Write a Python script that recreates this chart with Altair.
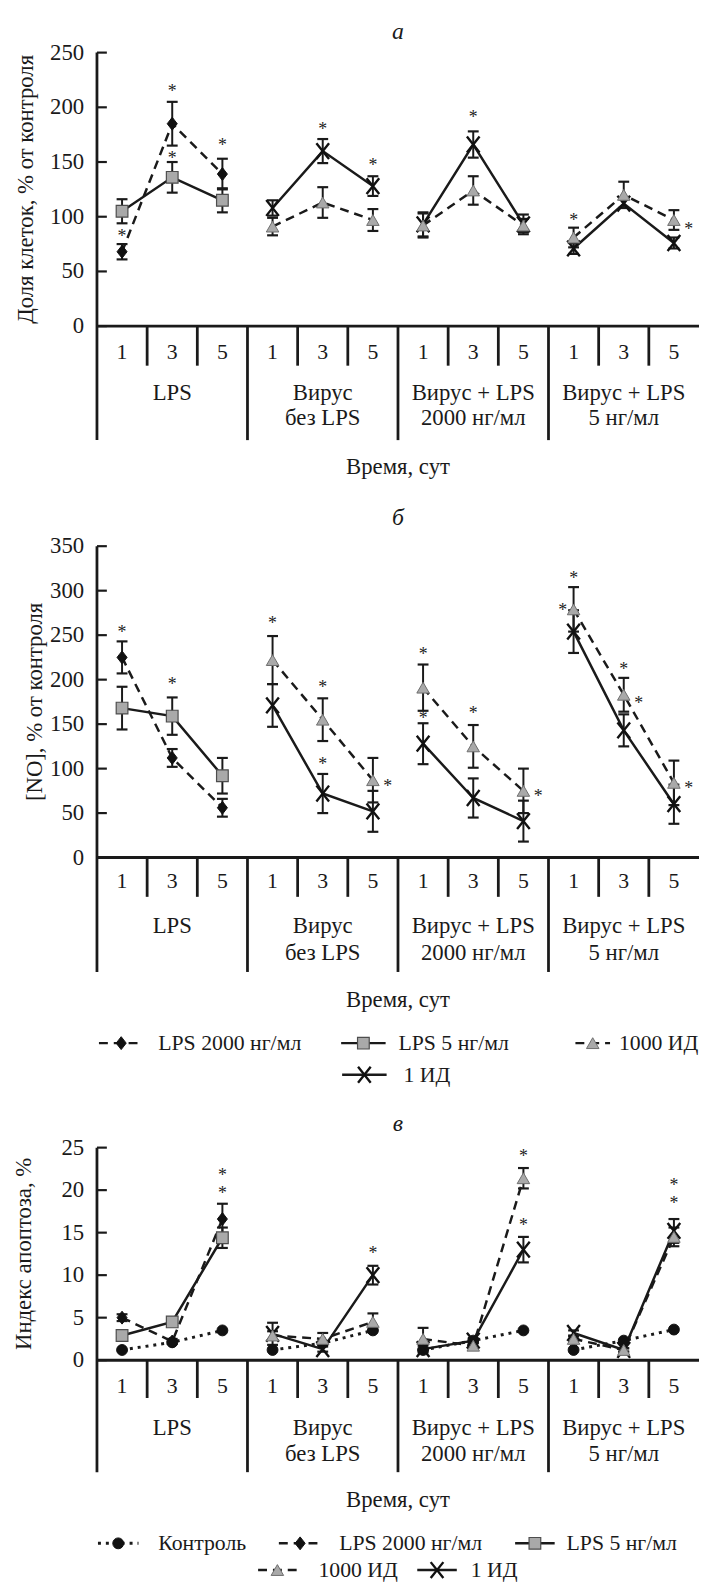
import altair as alt
import pandas as pd

FONT = "Liberation Serif, Times New Roman, serif"
INK = "#1a1a1a"

# ---------------- shared categories / labels ----------------
GROUP_LINE1 = ["LPS", "Вирус", "Вирус + LPS", "Вирус + LPS"]
GROUP_LINE2 = ["", "без LPS", "2000 нг/мл", "5 нг/мл"]
DAY_LABELS = ["1", "3", "5"]
SERIES = ["Контроль", "LPS 2000 нг/мл", "LPS 5 нг/мл", "1000 ИД", "1 ИД"]
X_TITLE = "Время, сут"

# ---------------- panel а ----------------
A_TITLE = "а"
A_YTITLE = "Доля клеток, % от контроля"
A_YMAX, A_YSTEP = 250, 50
A_LPS2000 = [68, 185, 139]
A_LPS2000_ERR = [7, 20, 14]
A_LPS5 = [105, 136, 115]
A_LPS5_ERR = [11, 14, 11]
A_ID1000 = [[91, 113, 97], [92, 124, 92], [81, 120, 97]]
A_ID1000_ERR = [[8, 14, 10], [11, 13, 6], [9, 12, 9]]
A_ID1 = [[108, 160, 128], [93, 166, 93], [71, 112, 76]]
A_ID1_ERR = [[7, 11, 9], [11, 12, 9], [5, 4, 5]]
# (group, day index, value, side)
A_STARS = [(0, 0, 85, "c"), (0, 1, 218, "c"), (0, 1, 156, "c"), (0, 2, 168, "c"),
           (1, 1, 183, "c"), (1, 2, 150, "c"), (2, 1, 194, "c"), (3, 0, 100, "c"),
           (3, 2, 91, "r")]

# ---------------- panel б ----------------
B_TITLE = "б"
B_YTITLE = "[NO], % от контроля"
B_YMAX, B_YSTEP = 350, 50
B_LPS2000 = [225, 112, 56]
B_LPS2000_ERR = [18, 10, 10]
B_LPS5 = [168, 159, 92]
B_LPS5_ERR = [24, 21, 20]
B_ID1000 = [[222, 155, 87], [191, 125, 75], [279, 183, 84]]
B_ID1000_ERR = [[27, 24, 25], [26, 24, 25], [25, 19, 25]]
B_ID1 = [[171, 72, 52], [128, 67, 41], [254, 143, 60]]
B_ID1_ERR = [[24, 22, 23], [23, 22, 23], [24, 18, 22]]
B_STARS = [(0, 0, 257, "c"), (0, 1, 198, "c"), (1, 0, 267, "c"), (1, 1, 195, "c"),
           (1, 1, 108, "c"), (1, 2, 84, "r"), (2, 0, 232, "c"), (2, 0, 160, "c"),
           (2, 1, 166, "c"), (2, 2, 73, "r"), (3, 0, 318, "c"), (3, 0, 281, "l"),
           (3, 1, 215, "c"), (3, 1, 177, "r"), (3, 2, 81, "r")]

# ---------------- panel в ----------------
C_TITLE = "в"
C_YTITLE = "Индекс апоптоза, %"
C_YMAX, C_YSTEP = 25, 5
C_CONTROL = [[1.2, 2.1, 3.5], [1.2, 2.0, 3.5], [1.2, 2.3, 3.5], [1.2, 2.3, 3.6]]
C_LPS2000 = [5.0, 2.2, 16.6]
C_LPS2000_ERR = [0.4, 0.3, 1.8]
C_LPS5 = [2.9, 4.5, 14.4]
C_LPS5_ERR = [0.3, 0.3, 1.2]
C_ID1000 = [[2.9, 2.5, 4.5], [2.5, 1.7, 21.4], [2.5, 1.2, 14.5]]
C_ID1000_ERR = [[0.5, 0.7, 1.0], [1.3, 0.3, 1.2], [0.3, 0.2, 1.1]]
C_ID1 = [[3.1, 1.3, 10.0], [1.3, 2.3, 13.0], [3.2, 1.2, 15.2]]
C_ID1_ERR = [[1.3, 0.3, 1.1], [0.4, 0.3, 1.5], [0.3, 0.2, 1.4]]
C_STARS = [(0, 2, 22.1, "c"), (0, 2, 20.0, "c"), (1, 2, 12.9, "c"), (2, 2, 24.4, "c"),
           (2, 2, 16.2, "c"), (3, 2, 21.0, "c"), (3, 2, 18.8, "c")]

# ---------------- styles ----------------
DIAMOND = "M0,-1L0.78,0L0,1L-0.78,0Z"
XMARK = "M-0.8,-1L0.8,1M-0.8,1L0.8,-1"
STY = {
    "Контроль": dict(shape="circle", fill="#111111", stroke="#111111", sw=1.0, size=121, dash=[3, 5], lw=3.0),
    "LPS 2000 нг/мл": dict(shape=DIAMOND, fill="#111111", stroke="#111111", sw=1.0, size=170, dash=[9, 6], lw=2.5),
    "LPS 5 нг/мл": dict(shape="square", fill="#a9a9a9", stroke="#4d4d4d", sw=1.2, size=140, dash=None, lw=2.5),
    "1000 ИД": dict(shape="triangle-up", fill="#a9a9a9", stroke="#6e6e6e", sw=1.0, size=160, dash=[9, 6], lw=2.5),
    "1 ИД": dict(shape=XMARK, fill="#111111", stroke="#111111", sw=2.4, size=256, dash=None, lw=2.5),
}
DRAW_ORDER = ["Контроль", "LPS 2000 нг/мл", "LPS 5 нг/мл", "1 ИД", "1000 ИД"]
FS_TICK, FS_DAY, FS_GROUP, FS_TITLE, FS_LEG, FS_STAR = 23, 22, 23, 24, 22, 18

W = 609
H = 1576
XS = alt.Scale(domain=[0, 12], nice=False, zero=False)


def xe(f):
    return alt.X(f"{f}:Q", scale=XS, axis=None)


def table(lps2000, lps2000_err, lps5, lps5_err, id1000, id1000_err, id1, id1_err, control=None):
    rows = []

    def add(series, g, vals, errs):
        for d, (v, e) in enumerate(zip(vals, errs)):
            rows.append(dict(series=series, key=f"{series}|{g}", x=3 * g + d + 0.5,
                             v=v, lo=v - e, hi=v + e, err=e))

    if control is not None:
        for g, vals in enumerate(control):
            add("Контроль", g, vals, [0, 0, 0])
    add("LPS 2000 нг/мл", 0, lps2000, lps2000_err)
    add("LPS 5 нг/мл", 0, lps5, lps5_err)
    for gi in range(3):
        add("1 ИД", gi + 1, id1[gi], id1_err[gi])
    for gi in range(3):
        add("1000 ИД", gi + 1, id1000[gi], id1000_err[gi])
    return pd.DataFrame(rows)


def stars_table(stars):
    return pd.DataFrame([dict(x=3 * g + d + 0.5, v=v, side=s) for g, d, v, s in stars])


def txt(**kw):
    base = dict(font=FONT, baseline="middle", color=INK)
    base.update(kw)
    return base


def panel(df, stars, title, ytitle, ymax, ystep, geo, legend=None):
    ys = alt.Scale(domain=[0, ymax], range=[geo["r0"], geo["r1"]], nice=False, zero=False)

    def ye(f):
        return alt.Y(f"{f}:Q", scale=ys, axis=None)

    L = []
    # y axis ticks (inward) and labels
    tk = pd.DataFrame({"v": list(range(0, ymax + 1, ystep))})
    L.append(alt.Chart(tk).mark_rule(color=INK, strokeWidth=2.2).encode(
        y=ye("v"), x=alt.value(0), x2=alt.value(10)))
    L.append(alt.Chart(tk).mark_text(**txt(fontSize=FS_TICK, align="right")).encode(
        y=ye("v"), x=alt.value(-13), text="v:Q"))
    # group separators (first one doubles as y axis line)
    seps = pd.DataFrame({"x": [0, 3, 6, 9], "top": [ymax, 0, 0, 0]})
    L.append(alt.Chart(seps).mark_rule(color=INK, strokeWidth=2.8).encode(
        x=xe("x"), y=ye("top"), y2=alt.value(geo["sep_bottom"])))
    # day ticks
    dt = pd.DataFrame({"x": [1, 2, 4, 5, 7, 8, 10, 11], "z": [0] * 8})
    L.append(alt.Chart(dt).mark_rule(color=INK, strokeWidth=2.8).encode(
        x=xe("x"), y=ye("z"), y2=alt.value(geo["tick_bottom"])))
    # x axis line
    xl = pd.DataFrame({"x0": [0], "x1": [12], "z": [0]})
    L.append(alt.Chart(xl).mark_rule(color=INK, strokeWidth=3).encode(
        x=xe("x0"), x2="x1:Q", y=ye("z")))
    # day labels
    dl = pd.DataFrame({"x": [3 * g + d + 0.5 for g in range(4) for d in range(3)],
                       "t": DAY_LABELS * 4})
    L.append(alt.Chart(dl).mark_text(**txt(fontSize=FS_DAY)).encode(
        x=xe("x"), y=alt.value(geo["day_y"]), text="t:N"))
    # group labels
    gl = pd.DataFrame({"x": [1.5, 4.5, 7.5, 10.5], "l1": GROUP_LINE1, "l2": GROUP_LINE2})
    L.append(alt.Chart(gl).mark_text(**txt(fontSize=FS_GROUP)).encode(
        x=xe("x"), y=alt.value(geo["g1_y"]), text="l1:N"))
    L.append(alt.Chart(gl).mark_text(**txt(fontSize=FS_GROUP)).encode(
        x=xe("x"), y=alt.value(geo["g2_y"]), text="l2:N"))
    # titles
    tt = pd.DataFrame({"x": [6], "t": [title], "xt": [X_TITLE], "yt": [ytitle]})
    L.append(alt.Chart(tt).mark_text(**txt(fontSize=FS_TITLE, fontStyle="italic")).encode(
        x=xe("x"), y=alt.value(geo["title_y"]), text="t:N"))
    L.append(alt.Chart(tt).mark_text(**txt(fontSize=FS_GROUP)).encode(
        x=xe("x"), y=alt.value(geo["xtitle_y"]), text="xt:N"))
    L.append(alt.Chart(tt).mark_text(**txt(fontSize=FS_GROUP, angle=270)).encode(
        x=alt.value(geo["ytitle_x"]), y=alt.value((geo["r0"] + geo["r1"]) / 2), text="yt:N"))

    # data lines
    for s in DRAW_ORDER:
        sub = df[df.series == s]
        if sub.empty:
            continue
        st = STY[s]
        kw = dict(color=INK, strokeWidth=st["lw"])
        if st["dash"]:
            kw["strokeDash"] = st["dash"]
        L.append(alt.Chart(sub).mark_line(**kw).encode(x=xe("x"), y=ye("v"), detail="key:N"))
    # error bars
    eb = df[df.err > 0]
    L.append(alt.Chart(eb).mark_rule(color=INK, strokeWidth=2).encode(x=xe("x"), y=ye("lo"), y2="hi:Q"))
    for f in ("lo", "hi"):
        L.append(alt.Chart(eb).mark_tick(orient="horizontal", color=INK, size=11, thickness=2.2,
                                         opacity=1).encode(x=xe("x"), y=ye(f)))
    # points
    for s in DRAW_ORDER:
        sub = df[df.series == s]
        if sub.empty:
            continue
        st = STY[s]
        L.append(alt.Chart(sub).mark_point(shape=st["shape"], filled=True, fill=st["fill"],
                                           stroke=st["stroke"], strokeWidth=st["sw"],
                                           size=st["size"], opacity=1).encode(x=xe("x"), y=ye("v")))
    # asterisks
    sd = stars_table(stars)
    for side, dx in (("c", 0), ("r", 15), ("l", -11)):
        sub = sd[sd.side == side]
        if sub.empty:
            continue
        L.append(alt.Chart(sub).mark_text(text="*", dx=dx, dy=4,
                                          **txt(fontSize=FS_STAR, color="#222222")).encode(
            x=xe("x"), y=ye("v")))
    # legend
    if legend:
        for row_y, items in legend:
            for name, x0, x1, xt in items:
                st = STY[name]
                kw = dict(color=INK, strokeWidth=st["lw"])
                if st["dash"]:
                    kw["strokeDash"] = st["dash"]
                one = pd.DataFrame({"t": [name]})
                L.append(alt.Chart(one).mark_rule(**kw).encode(
                    x=alt.value(x0 - 98), x2=alt.value(x1 - 98), y=alt.value(row_y)))
                L.append(alt.Chart(one).mark_point(shape=st["shape"], filled=True, fill=st["fill"],
                                                   stroke=st["stroke"], strokeWidth=st["sw"],
                                                   size=st["size"], opacity=1).encode(
                    x=alt.value((x0 + x1) / 2 - 98), y=alt.value(row_y)))
                L.append(alt.Chart(one).mark_text(**txt(fontSize=FS_LEG, align="left")).encode(
                    x=alt.value(xt - 98), y=alt.value(row_y), text="t:N"))
    return L


GEO_A = dict(r0=312.7, r1=36, title_y=15, tick_bottom=352.7, sep_bottom=428, day_y=338.7,
             g1_y=380, g2_y=406, xtitle_y=455, ytitle_x=-72)
GEO_B = dict(r0=850.3, r1=535.3, title_y=507, tick_bottom=890, sep_bottom=966, day_y=873.7,
             g1_y=920, g2_y=947, xtitle_y=994.7, ytitle_x=-63)
GEO_C = dict(r0=1358.7, r1=1143.7, title_y=1120, tick_bottom=1397, sep_bottom=1472, day_y=1385,
             g1_y=1427, g2_y=1454, xtitle_y=1500, ytitle_x=-74)

LEG_B = [(1038, [("LPS 2000 нг/мл", 100, 145, 160), ("LPS 5 нг/мл", 345, 390, 403),
                 ("1000 ИД", 582, 617, 626)]),
         (1070, [("1 ИД", 346, 391, 408)])]
LEG_C = [(1544, [("Контроль", 99, 140, 160), ("LPS 2000 нг/мл", 282, 325, 343),
                 ("LPS 5 нг/мл", 521, 561, 573)]),
         (1571, [("1000 ИД", 261, 300, 322), ("1 ИД", 422, 462, 476)])]

df_a = table(A_LPS2000, A_LPS2000_ERR, A_LPS5, A_LPS5_ERR, A_ID1000, A_ID1000_ERR, A_ID1, A_ID1_ERR)
df_b = table(B_LPS2000, B_LPS2000_ERR, B_LPS5, B_LPS5_ERR, B_ID1000, B_ID1000_ERR, B_ID1, B_ID1_ERR)
df_c = table(C_LPS2000, C_LPS2000_ERR, C_LPS5, C_LPS5_ERR, C_ID1000, C_ID1000_ERR, C_ID1, C_ID1_ERR,
             control=C_CONTROL)

layers = (panel(df_a, A_STARS, A_TITLE, A_YTITLE, A_YMAX, A_YSTEP, GEO_A)
          + panel(df_b, B_STARS, B_TITLE, B_YTITLE, B_YMAX, B_YSTEP, GEO_B, LEG_B)
          + panel(df_c, C_STARS, C_TITLE, C_YTITLE, C_YMAX, C_YSTEP, GEO_C, LEG_C))

chart = alt.layer(*layers).resolve_scale(y="independent").properties(
    width=W, height=H,
    autosize=alt.AutoSizeParams(type="none"),
    padding={"left": 90, "right": 0, "top": 0, "bottom": 0},
    background="white",
).configure_view(stroke=None)

chart.save("out.html", embed_options={"renderer": "svg", "actions": False})
